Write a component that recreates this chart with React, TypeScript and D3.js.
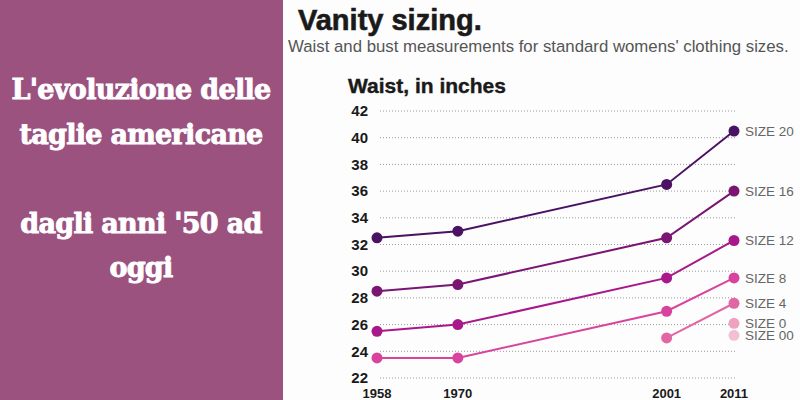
import React from "react";
import * as d3 from "d3";

const years = [1958, 1970, 2001, 2011];
const yTicks = [22, 24, 26, 28, 30, 32, 34, 36, 38, 40, 42];

const sizeLabels = ["SIZE 20", "SIZE 16", "SIZE 12", "SIZE 8", "SIZE 4", "SIZE 0", "SIZE 00"];
const size20 = [32.5, 33, 36.5, 40.5];
const size16 = [28.5, 29, 32.5, 36];
const size12 = [25.5, 26, 29.5, 32.3];
const size8 = [23.5, 23.5, 27, 29.5];
const size4 = [null, null, 25, 27.6];
const size0 = [null, null, null, 26.1];
const size00 = [null, null, null, 25.2];
const seriesColors = ["#4a1262", "#7a1574", "#a8188a", "#d8449d", "#e266a4", "#eda3c0", "#f3c0d1"];

const panelLines = ["L'evoluzione delle", "taglie americane", "", "dagli anni '50 ad", "oggi"];

export default function App() {
  const x = d3.scaleLinear().domain([1958, 2011]).range([377, 734]);
  const y = d3.scaleLinear().domain([22, 42]).range([378, 111]);
  const allSeries = [size20, size16, size12, size8, size4, size0, size00];
  const line = d3
    .line<number | null>()
    .defined((d) => d != null)
    .x((_, i) => x(years[i]))
    .y((d) => y(d as number));
  const sans = "'Liberation Sans', Arial, sans-serif";

  return (
    <svg
      width={800}
      height={400}
      style={{ position: "absolute", left: 0, top: 0, display: "block" }}
    >
      <rect x={0} y={0} width={800} height={400} fill="#fdfdfd" />
      <rect x={0} y={0} width={283} height={400} fill="#9b527f" />
      {panelLines.map((t, i) => (
        <text
          key={i}
          x={141}
          y={99 + i * 44.5}
          textAnchor="middle"
          fill="#ffffff"
          stroke="#ffffff"
          strokeWidth={0.9}
          fontFamily="'DejaVu Serif', serif"
          fontWeight="bold"
          fontSize={27}
          letterSpacing={-0.7}
        >
          {t}
        </text>
      ))}

      <text
        x={298}
        y={30}
        fontFamily={sans}
        fontWeight="bold"
        fontSize={29}
        fill="#1a1a1a"
        stroke="#1a1a1a"
        strokeWidth={0.6}
      >
        Vanity sizing.
      </text>
      <text x={288} y={52} fontFamily={sans} fontSize={16.8} fill="#555">
        Waist and bust measurements for standard womens' clothing sizes.
      </text>
      <text
        x={348}
        y={93}
        fontFamily={sans}
        fontWeight="bold"
        fontSize={21}
        fill="#1a1a1a"
        stroke="#1a1a1a"
        strokeWidth={0.4}
      >
        Waist, in inches
      </text>

      {yTicks.map((t) => (
        <g key={t}>
          <line
            x1={380}
            x2={737}
            y1={y(t)}
            y2={y(t)}
            stroke="#9a9a9a"
            strokeWidth={1}
            strokeDasharray="1,2"
          />
          <text
            x={368}
            y={y(t)}
            dy="0.35em"
            textAnchor="end"
            fontFamily={sans}
            fontWeight="bold"
            fontSize={15}
            fill="#1a1a1a"
          >
            {t}
          </text>
        </g>
      ))}

      {years.map((yr) => (
        <text
          key={yr}
          x={x(yr)}
          y={398}
          textAnchor="middle"
          fontFamily={sans}
          fontWeight="bold"
          fontSize={13}
          fill="#1a1a1a"
        >
          {yr}
        </text>
      ))}

      {allSeries.map((s, si) => (
        <g key={si}>
          <path d={line(s) || ""} fill="none" stroke={seriesColors[si]} strokeWidth={2} />
          {s.map((v, i) =>
            v == null ? null : (
              <circle key={i} cx={x(years[i])} cy={y(v)} r={5.5} fill={seriesColors[si]} />
            )
          )}
          <text
            x={x(2011) + 11}
            y={y(s[3] as number)}
            dy="0.36em"
            fontFamily={sans}
            fontSize={13.5}
            fill="#666"
          >
            {sizeLabels[si]}
          </text>
        </g>
      ))}
    </svg>
  );
}
